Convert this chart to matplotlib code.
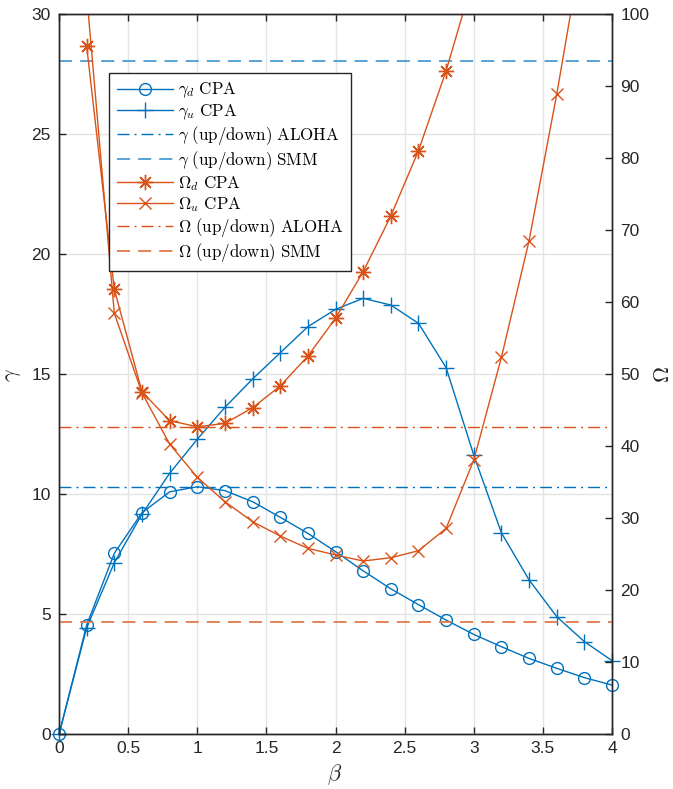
import matplotlib
matplotlib.use('Agg')
import matplotlib.pyplot as plt

plt.rcParams['mathtext.fontset'] = 'cm'
plt.rcParams['font.family'] = ['Liberation Sans', 'DejaVu Sans']
plt.rcParams['lines.scale_dashes'] = False

#  Data
beta = [0, 0.2, 0.4, 0.6, 0.8, 1.0, 1.2, 1.4, 1.6, 1.8, 2.0,
        2.2, 2.4, 2.6, 2.8, 3.0, 3.2, 3.4, 3.6, 3.8, 4.0]
gamma_d = [0, 4.55, 7.54, 9.23, 10.10, 10.31, 10.15, 9.69, 9.04, 8.37, 7.61,
           6.81, 6.06, 5.40, 4.76, 4.16, 3.65, 3.16, 2.75, 2.36, 2.05]
gamma_u = [0, 4.44, 7.15, 9.17, 10.87, 12.29, 13.62, 14.80, 15.89, 16.98, 17.70,
           18.16, 17.88, 17.12, 15.27, 11.63, 8.39, 6.43, 4.90, 3.86, 3.07]
beta_od = [0.2, 0.4, 0.6, 0.8, 1.0, 1.2, 1.4, 1.6, 1.8, 2.0, 2.2, 2.4, 2.6, 2.8, 3.0]
omega_d = [95.55, 61.78, 47.57, 43.54, 42.71, 43.17, 45.34, 48.36, 52.52, 57.76,
           64.23, 71.96, 81.03, 92.13, 105.2]
beta_ou = [0.2, 0.4, 0.6, 0.8, 1.0, 1.2, 1.4, 1.6, 1.8, 2.0, 2.2,
           2.4, 2.6, 2.8, 3.0, 3.2, 3.4, 3.6, 3.8]
omega_u = [102.7, 58.45, 47.4, 40.3, 35.68, 32.3, 29.52, 27.53, 25.82, 24.9, 24.06,
           24.52, 25.49, 28.6, 38.08, 52.34, 68.53, 88.85, 111.2]
gamma_aloha = 10.31
gamma_smm = 28.05
omega_aloha = 42.62
omega_smm = 15.63

labels = [r'$\gamma_d\ \mathrm{CPA}$',
          r'$\gamma_u\ \mathrm{CPA}$',
          r'$\gamma\ \mathrm{(up/down)\ ALOHA}$',
          r'$\gamma\ \mathrm{(up/down)\ SMM}$',
          r'$\Omega_d\ \mathrm{CPA}$',
          r'$\Omega_u\ \mathrm{CPA}$',
          r'$\Omega\ \mathrm{(up/down)\ ALOHA}$',
          r'$\Omega\ \mathrm{(up/down)\ SMM}$']

#  MATLAB default colours
blue = '#0072BD'
orange = '#D95319'
blue_light = '#4A9BD3'
orange_light = '#E27A4B'
axis_col = '#262626'
dash = (9.4, 5.8)
dashdot = (8.6, 3.6, 1.5, 3.6)
lw = 1.0

fig = plt.figure(figsize=(6.73, 7.89), dpi=100)
ax = fig.add_axes([0.0877, 0.0693, 0.8217, 0.9129])
ax2 = ax.twinx()

ax.grid(True, color='#e3e3e3', linewidth=1.0)
ax.set_axisbelow(True)

h = []
h += ax.plot(beta, gamma_d, color=blue, lw=lw, marker='o', ms=8.5,
             mfc='none', mew=lw, clip_on=False)
h += ax.plot(beta, gamma_u, color=blue, lw=lw, marker='+', ms=11,
             mew=lw, clip_on=False)
h.append(ax.axhline(gamma_aloha, color=blue, lw=lw, dashes=dashdot))
h.append(ax.axhline(gamma_smm, color=blue_light, lw=1.3, dashes=dash))

h += ax2.plot(beta_od, omega_d, color=orange, lw=lw, marker=(8, 2, 0), ms=11,
              mew=lw)
h += ax2.plot(beta_ou, omega_u, color=orange, lw=lw, marker='x', ms=9,
              mew=lw)
h.append(ax2.axhline(omega_aloha, color=orange, lw=lw, dashes=dashdot))
h.append(ax2.axhline(omega_smm, color=orange_light, lw=1.3, dashes=dash))

ax.set_xlim(0, 4)
ax.set_ylim(0, 30)
ax2.set_ylim(0, 100)
ax.set_xticks([0, 0.5, 1, 1.5, 2, 2.5, 3, 3.5, 4])
ax.set_xticklabels(['0', '0.5', '1', '1.5', '2', '2.5', '3', '3.5', '4'])
ax.set_yticks(range(0, 31, 5))
ax2.set_yticks(range(0, 101, 10))

ax.tick_params(axis='x', direction='in', length=5, width=1, top=True,
               labelsize=12.5, pad=5, colors=axis_col)
ax.tick_params(axis='y', direction='in', length=5, width=1, right=False,
               labelsize=12.5, pad=6, colors=axis_col)
ax2.tick_params(axis='y', direction='in', length=5, width=1,
                labelsize=12.5, pad=6, colors=axis_col)
for a in (ax, ax2):
    for s in a.spines.values():
        s.set_color(axis_col)
        s.set_linewidth(1.0)

ax.set_xlabel(r'$\beta$', fontsize=16, color=axis_col)
ax.set_ylabel(r'$\gamma$', fontsize=16, color=axis_col)
ax2.set_ylabel(r'$\Omega$', fontsize=16, color=axis_col)
ax.xaxis.label.set_va('center')
ax.yaxis.label.set_va('center')
ax2.yaxis.label.set_va('center')
ax.xaxis.set_label_coords(0.499, -0.0565)
ax.yaxis.set_label_coords(-0.085, 0.499)
ax2.yaxis.set_label_coords(1.093, 0.499)

leg = ax2.legend(h, labels, loc='upper left', bbox_to_anchor=(0.091, 0.918),
                 borderaxespad=0, fontsize=12.2, handlelength=3.3,
                 handletextpad=0.3, labelspacing=0.12, borderpad=0.45,
                 fancybox=False, framealpha=1, edgecolor=axis_col)
leg.get_frame().set_linewidth(1.0)

fig.savefig('out.png', dpi=100)
